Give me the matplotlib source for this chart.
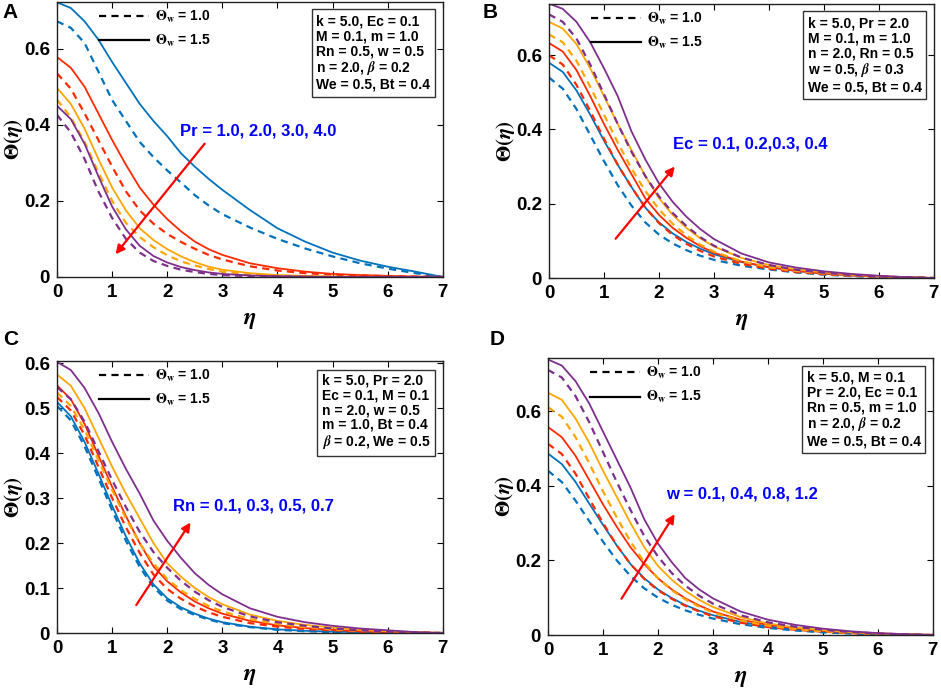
import matplotlib
matplotlib.use('Agg')
import matplotlib.pyplot as plt
from matplotlib.lines import Line2D

plt.rcParams['font.family'] = ['Liberation Sans', 'DejaVu Sans']
plt.rcParams['font.weight'] = 'bold'
plt.rcParams['mathtext.fontset'] = 'stix'

eta = [0, 0.25, 0.5, 0.75, 1, 1.25, 1.5, 1.75, 2, 2.25, 2.5, 2.75, 3, 3.5, 4, 4.5, 5, 5.5, 6, 6.5, 7]
colors = ['#0072BD', '#FF2A00', '#FFA500', '#7E2F8E']

# panel A: Pr = 1, 2, 3, 4  (solid: Theta_w = 1.5, dashed: Theta_w = 1.0)
A_solid = [
    [0.722, 0.707, 0.672, 0.624, 0.565, 0.51, 0.455, 0.41, 0.37, 0.325, 0.29, 0.258, 0.229, 0.176, 0.128, 0.093, 0.064, 0.043, 0.027, 0.014, 0],
    [0.578, 0.55, 0.5, 0.43, 0.36, 0.295, 0.235, 0.19, 0.152, 0.12, 0.093, 0.073, 0.058, 0.036, 0.023, 0.014, 0.008, 0.005, 0.003, 0.001, 0],
    [0.497, 0.455, 0.39, 0.31, 0.235, 0.175, 0.128, 0.097, 0.073, 0.054, 0.039, 0.027, 0.019, 0.01, 0.005, 0.003, 0.001, 0, 0, 0, 0],
    [0.45, 0.415, 0.35, 0.265, 0.185, 0.125, 0.082, 0.055, 0.038, 0.026, 0.018, 0.012, 0.008, 0.004, 0.002, 0.001, 0, 0, 0, 0, 0],
]
A_dashed = [
    [0.672, 0.655, 0.615, 0.54, 0.465, 0.41, 0.355, 0.315, 0.28, 0.248, 0.215, 0.188, 0.165, 0.13, 0.1, 0.075, 0.054, 0.036, 0.022, 0.01, 0],
    [0.535, 0.495, 0.43, 0.36, 0.29, 0.225, 0.175, 0.14, 0.113, 0.092, 0.074, 0.058, 0.046, 0.028, 0.017, 0.01, 0.006, 0.004, 0.002, 0.001, 0],
    [0.466, 0.42, 0.355, 0.275, 0.2, 0.142, 0.105, 0.078, 0.057, 0.041, 0.03, 0.021, 0.014, 0.007, 0.003, 0.001, 0, 0, 0, 0, 0],
    [0.426, 0.38, 0.31, 0.225, 0.155, 0.1, 0.064, 0.042, 0.029, 0.019, 0.013, 0.008, 0.005, 0.002, 0.001, 0, 0, 0, 0, 0, 0],
]

# panel B: Ec = 0.1, 0.2, 0.3, 0.4
B_solid = [
    [0.58, 0.555, 0.505, 0.44, 0.37, 0.305, 0.245, 0.19, 0.15, 0.12, 0.097, 0.079, 0.064, 0.043, 0.029, 0.019, 0.012, 0.007, 0.004, 0.002, 0],
    [0.633, 0.61, 0.56, 0.49, 0.415, 0.345, 0.28, 0.215, 0.17, 0.135, 0.108, 0.086, 0.068, 0.044, 0.029, 0.019, 0.012, 0.007, 0.004, 0.002, 0],
    [0.69, 0.672, 0.63, 0.565, 0.49, 0.415, 0.345, 0.275, 0.215, 0.17, 0.135, 0.107, 0.085, 0.054, 0.035, 0.023, 0.015, 0.009, 0.005, 0.002, 0],
    [0.739, 0.725, 0.69, 0.635, 0.565, 0.49, 0.395, 0.32, 0.255, 0.205, 0.165, 0.132, 0.105, 0.066, 0.042, 0.028, 0.018, 0.011, 0.006, 0.002, 0],
]
B_dashed = [
    [0.54, 0.51, 0.455, 0.385, 0.315, 0.25, 0.195, 0.15, 0.117, 0.093, 0.075, 0.06, 0.049, 0.033, 0.023, 0.015, 0.009, 0.005, 0.003, 0.001, 0],
    [0.6, 0.575, 0.52, 0.45, 0.375, 0.305, 0.245, 0.19, 0.148, 0.116, 0.092, 0.073, 0.058, 0.038, 0.025, 0.016, 0.01, 0.006, 0.003, 0.001, 0],
    [0.656, 0.635, 0.585, 0.515, 0.44, 0.365, 0.295, 0.235, 0.185, 0.146, 0.115, 0.09, 0.071, 0.045, 0.029, 0.019, 0.012, 0.007, 0.004, 0.002, 0],
    [0.71, 0.69, 0.645, 0.575, 0.495, 0.415, 0.34, 0.275, 0.22, 0.175, 0.14, 0.11, 0.087, 0.055, 0.035, 0.022, 0.014, 0.008, 0.004, 0.002, 0],
]

# panel C: Rn = 0.1, 0.3, 0.5, 0.7
C_solid = [
    [0.514, 0.482, 0.425, 0.355, 0.283, 0.215, 0.155, 0.108, 0.077, 0.057, 0.043, 0.032, 0.024, 0.014, 0.008, 0.005, 0.003, 0.002, 0.001, 0, 0],
    [0.551, 0.52, 0.465, 0.395, 0.325, 0.26, 0.2, 0.148, 0.115, 0.09, 0.07, 0.055, 0.043, 0.027, 0.017, 0.011, 0.007, 0.004, 0.002, 0.001, 0],
    [0.575, 0.55, 0.5, 0.435, 0.37, 0.31, 0.255, 0.2, 0.155, 0.125, 0.1, 0.08, 0.064, 0.041, 0.027, 0.018, 0.012, 0.007, 0.004, 0.002, 0],
    [0.603, 0.585, 0.545, 0.49, 0.425, 0.365, 0.31, 0.25, 0.205, 0.167, 0.133, 0.107, 0.086, 0.055, 0.036, 0.024, 0.016, 0.01, 0.006, 0.002, 0],
]
C_dashed = [
    [0.505, 0.473, 0.415, 0.345, 0.273, 0.205, 0.147, 0.102, 0.072, 0.053, 0.04, 0.03, 0.022, 0.013, 0.007, 0.004, 0.002, 0.001, 0, 0, 0],
    [0.525, 0.495, 0.44, 0.37, 0.3, 0.235, 0.178, 0.13, 0.098, 0.076, 0.059, 0.046, 0.036, 0.022, 0.014, 0.009, 0.006, 0.003, 0.002, 0.001, 0],
    [0.535, 0.505, 0.452, 0.385, 0.318, 0.255, 0.2, 0.155, 0.12, 0.095, 0.076, 0.06, 0.048, 0.031, 0.02, 0.013, 0.008, 0.005, 0.003, 0.001, 0],
    [0.547, 0.52, 0.47, 0.405, 0.34, 0.28, 0.225, 0.18, 0.145, 0.116, 0.092, 0.073, 0.058, 0.037, 0.024, 0.016, 0.01, 0.006, 0.003, 0.001, 0],
]

# panel D: w = 0.1, 0.4, 0.8, 1.2
D_solid = [
    [0.486, 0.458, 0.41, 0.352, 0.295, 0.24, 0.19, 0.152, 0.122, 0.099, 0.08, 0.065, 0.053, 0.035, 0.023, 0.015, 0.009, 0.005, 0.003, 0.001, 0],
    [0.557, 0.53, 0.48, 0.415, 0.35, 0.29, 0.235, 0.19, 0.152, 0.122, 0.098, 0.079, 0.063, 0.041, 0.027, 0.018, 0.011, 0.007, 0.004, 0.002, 0],
    [0.649, 0.63, 0.58, 0.515, 0.44, 0.37, 0.3, 0.235, 0.185, 0.148, 0.118, 0.094, 0.075, 0.048, 0.031, 0.02, 0.013, 0.008, 0.004, 0.002, 0],
    [0.738, 0.722, 0.68, 0.62, 0.545, 0.47, 0.395, 0.31, 0.245, 0.195, 0.152, 0.122, 0.098, 0.063, 0.041, 0.027, 0.017, 0.01, 0.005, 0.002, 0],
]
D_dashed = [
    [0.44, 0.41, 0.36, 0.305, 0.25, 0.2, 0.158, 0.125, 0.1, 0.081, 0.066, 0.054, 0.044, 0.029, 0.019, 0.012, 0.007, 0.004, 0.002, 0.001, 0],
    [0.512, 0.485, 0.432, 0.365, 0.3, 0.24, 0.19, 0.15, 0.12, 0.097, 0.078, 0.063, 0.05, 0.033, 0.021, 0.014, 0.009, 0.005, 0.003, 0.001, 0],
    [0.61, 0.585, 0.53, 0.46, 0.385, 0.315, 0.25, 0.195, 0.152, 0.12, 0.095, 0.076, 0.06, 0.039, 0.025, 0.016, 0.01, 0.006, 0.003, 0.001, 0],
    [0.71, 0.69, 0.64, 0.57, 0.49, 0.41, 0.335, 0.265, 0.21, 0.166, 0.132, 0.105, 0.084, 0.053, 0.034, 0.022, 0.014, 0.008, 0.004, 0.002, 0],
]

param_A = 'k = 5.0, Ec = 0.1\nM = 0.1, m = 1.0\nRn = 0.5, w = 0.5\nn = 2.0, $\\beta$ = 0.2\nWe = 0.5, Bt = 0.4'
param_B = 'k = 5.0, Pr = 2.0\nM = 0.1, m = 1.0\nn = 2.0, Rn = 0.5\nw = 0.5, $\\beta$ = 0.3\nWe = 0.5, Bt = 0.4'
param_C = 'k = 5.0, Pr = 2.0\nEc = 0.1, M = 0.1\nn = 2.0, w = 0.5\nm = 1.0, Bt = 0.4\n$\\beta$ = 0.2, We = 0.5'
param_D = 'k = 5.0, M = 0.1\nPr = 2.0, Ec = 0.1\nRn = 0.5, m = 1.0\nn = 2.0, $\\beta$ = 0.2\nWe = 0.5, Bt = 0.4'

panels = [
    ('A', [0.0606, 0.5986, 0.410, 0.3986], 0.723, [0, 0.2, 0.4, 0.6], A_solid, A_dashed, param_A,
     'Pr = 1.0, 2.0, 3.0, 4.0', (2.71, 0.356), (1.03, 0.054), (2.24, 0.385), (0.003, 0.995)),
    ('B', [0.5834, 0.5971, 0.409, 0.3971], 0.738, [0, 0.2, 0.4, 0.6], B_solid, B_dashed, param_B,
     'Ec = 0.1, 0.2,0.3, 0.4', (1.18, 0.10), (2.32, 0.306), (2.25, 0.362), (0.513, 0.995)),
    ('C', [0.0606, 0.0826, 0.410, 0.3942], 0.605, [0, 0.1, 0.2, 0.3, 0.4, 0.5, 0.6], C_solid, C_dashed, param_C,
     'Rn = 0.1, 0.3, 0.5, 0.7', (1.41, 0.057), (2.45, 0.251), (2.10, 0.283), (0.003, 0.522)),
    ('D', [0.5824, 0.0797, 0.409, 0.4014], 0.742, [0, 0.2, 0.4, 0.6], D_solid, D_dashed, param_D,
     'w = 0.1, 0.4, 0.8, 1.2', (1.31, 0.091), (2.33, 0.33), (2.15, 0.377), (0.52, 0.522)),
]

fig = plt.figure(figsize=(9.41, 6.90), dpi=100)

for (letter, pos, ytop, yticks, solid, dashed, params, note,
     arr_from, arr_to, note_xy, letter_xy) in panels:
    ax = fig.add_axes(pos)
    for c, ys, yd in zip(colors, solid, dashed):
        ax.plot(eta, yd, color=c, lw=1.6, linestyle=(0, (3.2, 2.4)))
        ax.plot(eta, ys, color=c, lw=1.3)
    ax.set_xlim(0, 7)
    ax.set_ylim(0, ytop)
    ax.set_xticks(range(8))
    ax.set_yticks(yticks)
    ax.set_yticklabels(['0'] + ['%g' % t for t in yticks[1:]])
    ax.tick_params(direction='in', top=True, right=True, length=4, labelsize=13.5, pad=5)
    for t in ax.get_xticklabels() + ax.get_yticklabels():
        t.set_fontweight('bold')
    for s in ax.spines.values():
        s.set_linewidth(1.0)
        s.set_color('#222222')
    ax.set_xlabel(r'$\eta$', fontsize=17, labelpad=6)
    ax.set_ylabel(r'$\Theta(\eta)$', fontsize=15)
    ax.yaxis.set_label_coords(-0.082, 0.5)

    handles = [Line2D([], [], color='black', lw=1.6, linestyle=(0, (3.2, 2.4))),
               Line2D([], [], color='black', lw=1.6)]
    ax.legend(handles, [r'$\Theta_{\mathbf{w}}$ = 1.0', r'$\Theta_{\mathbf{w}}$ = 1.5'],
              loc='upper left', bbox_to_anchor=(0.11, 0.975), frameon=False, fontsize=10,
              handlelength=3.6, handletextpad=0.4, labelspacing=0.6, borderpad=0, borderaxespad=0)

    ax.text(0.968, 0.955, params, transform=ax.transAxes, ha='right', va='top',
            fontsize=10, fontweight='bold', linespacing=1.08, multialignment='left',
            bbox=dict(boxstyle='square,pad=0.35', facecolor='white', edgecolor='#333333', lw=1.0))

    ax.annotate('', xy=arr_to, xytext=arr_from,
                arrowprops=dict(arrowstyle='-|>', color='red', lw=1.6, mutation_scale=13))
    ax.text(note_xy[0], note_xy[1], note, color='blue', fontsize=12, fontweight='bold',
            ha='left', va='center')

    fig.text(letter_xy[0], letter_xy[1], letter, fontsize=15, fontweight='bold',
             ha='left', va='top')

fig.savefig('out.png', dpi=100)
